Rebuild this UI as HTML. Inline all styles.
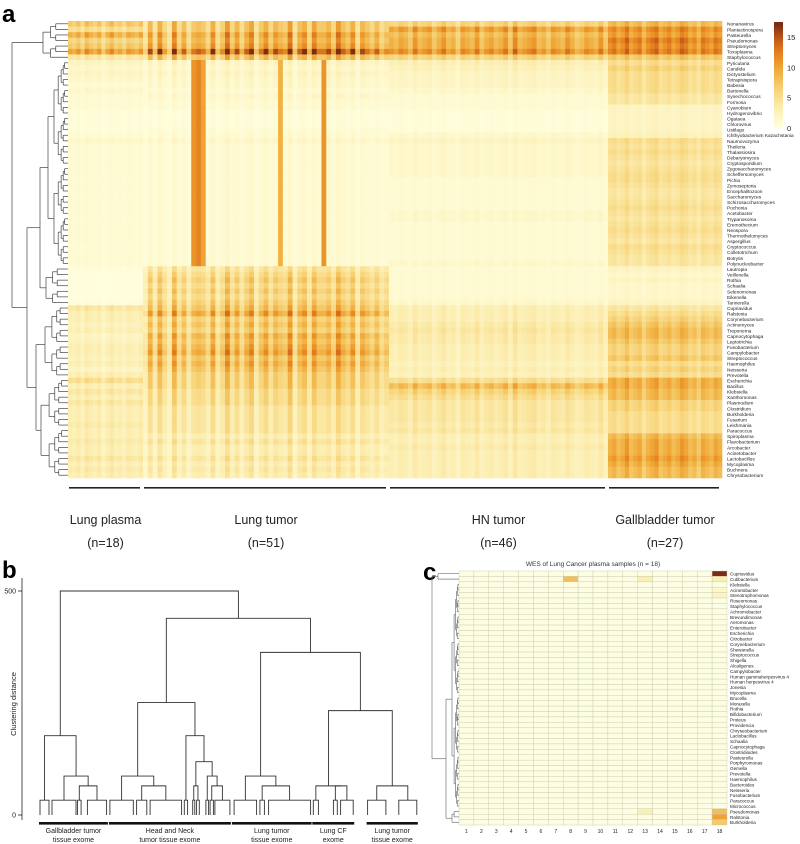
<!DOCTYPE html>
<html>
<head>
<meta charset="utf-8">
<style>
html,body{margin:0;padding:0;background:#fff;}
svg{display:block;font-family:"Liberation Sans",sans-serif;}
</style>
</head>
<body>
<svg id="fig" width="800" height="844" viewBox="0 0 800 844" xmlns="http://www.w3.org/2000/svg">
  <text x="2" y="22" font-size="24" font-weight="bold">a</text>
  <text x="2" y="578" font-size="24" font-weight="bold">b</text>
  <text x="423" y="580" font-size="24" font-weight="bold">c</text>
  <g id="ga"></g>
  <g id="gb"></g>
  <g id="gc"></g>
</svg>
<script>
// ---------- Panel a data ----------
const rowNamesA = ["Nonanavirus","Plantactinospora","Pasteurella","Pseudomonas","Streptomyces","Toxoplasma","Staphylococcus","Pyricularia","Candida","Dictyostelium","Tetrapisispora","Babesia","Bartonella","Synechococcus","Formosa","Cyanobium","Hydrogenovibrio","Ogataea","Chlorovirus","Ustilago","Ichthyobacterium Kazachstania","Naumovozyma","Theileria","Thalassiosira","Debaryomyces","Cryptosporidium","Zygosaccharomyces","Scheffersomyces","Pichia","Zymoseptoria","Encephalitozoon","Saccharomyces","Schizosaccharomyces","Pochonia","Acetobacter","Trypanosoma","Eremothecium","Neospora","Thermothelomyces","Aspergillus","Cryptococcus","Colletotrichum","Botrytis","Polynucleobacter","Lautropia","Veillonella","Rothia","Schaalia","Selenomonas","Eikenella","Tannerella","Cupriavidus","Ralstonia","Corynebacterium","Actinomyces","Treponema","Capnocytophaga","Leptotrichia","Fusobacterium","Campylobacter","Streptococcus","Haemophilus","Neisseria","Prevotella","Escherichia","Bacillus","Klebsiella","Xanthomonas","Plasmodium","Clostridium","Burkholderia","Fusarium","Leishmania","Paracoccus","Spiroplasma","Flavobacterium","Arcobacter","Acinetobacter","Lactobacillus","Mycoplasma","Buchnera","Chrysobacterium"];
const groupNames = ["Lung plasma","Lung tumor","HN tumor","Gallbladder tumor"];
const groupCounts = [18,51,46,27];
const levelsLP = [7,5,9,6,7,10,4, 2,1.5,2,1.5,1,1.5,1,1,1,0.5,0.5,0.5,0.5,1, 1.5,1,1,1,1,1,1,0.8,1,1,0.8,1,1,1,0.8,1,1,1,1,0.8,1,1,1, 0.5,0.3,0.3,0.3,0.3,0.3,0.5, 4,3,3,2.5,3,2,2.5,3,3,2.5,3,2,3, 5,3,4,3,4,3,3,3,3.5,3, 3,3.5,3,3,4,3,3.5,3];
const levelsLT = [7,7,9,8,9,13,7, 2,1.5,2,1.5,1.5,1,1.5,1,1,0.5,0.5,0.5,0.8,1, 1.5,1,1,1,1,1,1,1,1,1,1,1,1,1,1,1,1,1,1,1,1,1,1, 4,5,6,5,6,5,6, 7,9,6,7,6,8,7,8,9,7,8,7,6, 6,6,5,5,5,4,4,4,4,4, 3,4,3,3,4,3,3.5,3];
const levelsHN = [6,10,8,9,9,11,6, 3,2.5,2,2,2,1.5,1,1,1,0.5,0.5,0.5,0.5,1.5, 2,1.5,1.5,1.5,1.5,1.5,1.5,1,1,1,1,1,1,1.5,1.5,1,1,1,1,1,1,1,1.5, 1,1,1,1,1,1,1.5, 3,3,3,3.5,4,3.5,3.5,3,3,3,2.5,3,2.5, 5,8,6,5,4,4,4,4,3.5,4, 3,3,3.5,3,3,3,3,3];
const levelsGB = [8,11,10,12,11,12,7, 5,6,5,5,5,5,4,4,2,2,2,2,2,2.5, 5,4.5,5,4.5,4,4.5,5,5,4.5,4,4,4.5,5,4.5,4,4.5,5,4.5,4,5,4.5,4,4, 2,1.5,2,1.5,1.5,1.5,2, 4,5,6,7,8,8,7,6,6,7,5,6,5, 9,9,8,8,6,6,5,5,5,5, 8,9,9,9,10,9,8,8];
const colFactorLP = [1.0,0.9,1.1,0.8,1.2,1.0,0.9,1.1,0.7,1.0,1.2,0.9,1.0,0.8,1.1,1.0,0.9,1.1];
const colFactorLT = [0.5,1.2,0.6,1.3,0.8,0.5,1.4,0.7,1.1,0.6,1.0,1.1,1.0,0.7,1.3,0.6,0.9,1.5,0.8,1.2,0.7,1.1,1.4,0.6,1.0,1.3,0.8,1.2,1.0,0.9,1.5,0.6,1.1,1.3,0.7,1.4,1.0,1.0,1.2,0.8,1.5,1.1,0.9,1.3,0.6,1.2,1.0,0.8,1.1,0.7,0.9];
const colFactorHN = [1.0,0.9,1.1,1.0,0.8,1.2,0.9,1.0,1.1,0.8,1.0,1.2,0.9,1.0,0.7,1.1,1.0,0.9,1.2,0.8,1.0,1.1,0.9,1.0,1.2,0.8,1.3,0.9,1.0,1.1,1.2,0.9,1.0,0.8,1.1,1.0,0.9,1.2,1.0,0.8,0.9,1.1,1.0,0.9,1.2,0.8];
const colFactorGB = [1.0,1.1,0.9,1.0,1.2,0.9,1.0,1.1,0.8,1.0,1.1,1.2,0.9,1.0,1.1,0.9,1.0,1.2,1.1,0.9,1.0,0.8,1.1,1.0,0.9,1.1,1.0];
const stripeColsLT = [10,11,12,28,37];
const stripeValuesLT = [11,12,10,9,11];
const stripeRowRange = [7,43];
const colorbarTicks = [0,5,10,15];

// ---------- Panel b data ----------
const distTicks = [0,500];
const treeB = [500,
  [177,[33,0,3],[87,[33,4,12],[65,[33,12.5,13.7],[33,15.8,22.2]]]],
  [439,
    [251,[87,[33,23.3,31.1],[65,[33,32.2,35.6],[33,36.7,47.2]]],
         [177,[33,48.1,49.2],[119,[65,[33,50.9,51.6],[33,52.2,53.1]],[87,[33,55.3,56.2],[65,[33,56.7,57.8],[33,58.3,63.3]]]]]],
    [363,
      [87,[33,64.7,72.2],[65,[33,73.3,74.8],[33,76.2,90.2]]],
      [233,[65,[33,91.1,92.8],[65,[33,97.8,99.1],[33,100.2,104.4]]],[65,[33,109.2,115.3],[33,119.6,125.6]]]]]];
const groupsB = ["Gallbladder tumor|tissue exome","Head and Neck|tumor tissue exome","Lung tumor|tissue exome","Lung CF|exome","Lung tumor|tissue exome"];
const groupSpansB = [[0,22.3],[23.3,63.3],[64.3,90.2],[91.1,104.4],[109.2,125.6]];

// ---------- Panel c data ----------
const rowNamesC = ["Cupriavidus","Cutibacterium","Klebsiella","Acinetobacter","Stenotrophomonas","Roseomonas","Staphylococcus","Achromobacter","Brevundimonas","Aeromonas","Enterobacter","Escherichia","Citrobacter","Corynebacterium","Shewanella","Streptococcus","Shigella","Alcaligenes","Campylobacter","Human gammaherpesvirus 4","Human herpesvirus 4","Jonesia","Mycoplasma","Brucella","Moraxella","Rothia","Bifidobacterium","Proteus","Providencia","Chryseobacterium","Lactobacillus","Schaalia","Capnocytophaga","Clostridioides","Pasteurella","Porphyromonas","Gemella","Prevotella","Haemophilus","Bacteroides","Neisseria","Fusobacterium","Paracoccus","Micrococcus","Pseudomonas","Ralstonia","Burkholderia"];
const sampleLabelsC = ["1","2","3","4","5","6","7","8","9","10","11","12","13","14","15","16","17","18"];
const nonzeroRowsC = ["Cupriavidus","Cutibacterium","Cutibacterium","Cutibacterium","Acinetobacter","Stenotrophomonas","Pseudomonas","Pseudomonas","Ralstonia","Burkholderia"];
const nonzeroColsC = [18,8,13,18,18,18,13,18,18,18];
const nonzeroValsC = [17,8,3,3,1.5,2,3,8,10,7];

const NS = "http://www.w3.org/2000/svg";
function mk(tag, attrs, parent){ const e=document.createElementNS(NS,tag); for(const k in attrs) e.setAttribute(k,attrs[k]); parent.appendChild(e); return e; }
const stops=[[0,[255,255,224]],[3,[252,239,180]],[6,[247,214,126]],[9,[241,178,68]],[11,[236,148,39]],[13,[220,118,29]],[15,[187,83,24]],[17,[122,44,20]]];
function cmap(v){ v=Math.max(0,Math.min(17,v)); for(let i=1;i<stops.length;i++){ if(v<=stops[i][0]){ const a=stops[i-1],b=stops[i],t=(v-a[0])/(b[0]-a[0]); const c=a[1].map((x,j)=>Math.round(x+(b[1][j]-x)*t)); return `rgb(${c[0]},${c[1]},${c[2]})`; } } return 'rgb(122,44,20)'; }

// ===== Panel a =====
(function(){
  const g=document.getElementById('ga');
  const top=21, bottom=478, nR=rowNamesA.length, rh=(bottom-top)/nR;
  const spans=[[68,143],[143,389],[389,608],[608,722]];
  const levels=[levelsLP,levelsLT,levelsHN,levelsGB];
  const factors=[colFactorLP,colFactorLT,colFactorHN,colFactorGB];
  const yS=r=>top+r*rh;
  for(let gi=0;gi<4;gi++){
    const n=groupCounts[gi], cw=(spans[gi][1]-spans[gi][0])/n;
    for(let c=0;c<n;c++){
      for(let r=0;r<nR;r++){
        let v=levels[gi][r]*factors[gi][c];
        if(gi===1){ const si=stripeColsLT.indexOf(c); if(si>=0 && r>=stripeRowRange[0] && r<=stripeRowRange[1]) v=stripeValuesLT[si]; }
        const rc=mk('rect',{x:(spans[gi][0]+c*cw).toFixed(2),y:yS(r).toFixed(2),width:(cw+0.3).toFixed(2),height:(rh+0.3).toFixed(2),fill:cmap(v)},g);
        
        
      }
    }
    const bar=mk('rect',{x:spans[gi][0]+1,y:487,width:spans[gi][1]-spans[gi][0]-4,height:1.6,fill:'#222'},g);
    
    
    const cx=(spans[gi][0]+spans[gi][1])/2;
    const t1=mk('text',{x:cx,y:524,'font-size':12.5,'text-anchor':'middle',fill:'#222'},g); t1.textContent=groupNames[gi];
    
    
    const t2=mk('text',{x:cx,y:547,'font-size':12.5,'text-anchor':'middle',fill:'#222'},g); t2.textContent='(n='+n+')';
    
    
  }
  rowNamesA.forEach((nm,r)=>{ const t=mk('text',{x:727,y:(yS(r)+rh*0.85).toFixed(2),'font-size':4.8,fill:'#222'},g); t.textContent=nm;
    
     });
  // colorbar
  const cbTop=22, cbBot=128, cbX=774, cbW=9, cbScale=(cbBot-cbTop)/17.5;
  for(let i=0;i<70;i++){ const v=i*17.5/70; mk('rect',{x:cbX,y:(cbBot-(i+1)*cbScale*17.5/70).toFixed(2),width:cbW,height:(cbScale*17.5/70+0.4).toFixed(2),fill:cmap(v)},g); }
  colorbarTicks.forEach(tv=>{ const t=mk('text',{x:787,y:(cbBot-tv*cbScale+3).toFixed(1),'font-size':7.5,fill:'#222'},g); t.textContent=tv;
    
     });
  // row dendrogram
  const tree=[12,[43,[0,6]],[27,[40,[48,[7,43]],[46,[44,50]]],[36,[45,[51,63]],[41,[64,81]]]]];
  drawRowTree(g,tree,68,r=>yS(r)+rh/2,'#444');
})();

function drawRowTree(g,node,xLeaf,yc,col){
  function rangeNode(s,e,x){
    if(s===e) return yc(s);
    const m=Math.floor((s+e)/2);
    const nx=x+(xLeaf-x)*0.3;
    const y1=rangeNode(s,m,s===m?xLeaf:nx), y2=rangeNode(m+1,e,m+1===e?xLeaf:nx);
    const x1=s===m?xLeaf:nx, x2=m+1===e?xLeaf:nx;
    mk('line',{x1:x,y1:y1,x2:x1,y2:y1,stroke:col,'stroke-width':0.7},g);
    mk('line',{x1:x,y1:y2,x2:x2,y2:y2,stroke:col,'stroke-width':0.7},g);
    mk('line',{x1:x,y1:y1,x2:x,y2:y2,stroke:col,'stroke-width':0.7},g);
    return (y1+y2)/2;
  }
  function rec(n){
    if(typeof n[1][0]==='number' && n.length===2) return {x:n[0],y:rangeNode(n[1][0],n[1][1],n[0])};
    const a=rec(n[1]), b=rec(n[2]);
    mk('line',{x1:n[0],y1:a.y,x2:a.x,y2:a.y,stroke:col,'stroke-width':0.7},g);
    mk('line',{x1:n[0],y1:b.y,x2:b.x,y2:b.y,stroke:col,'stroke-width':0.7},g);
    mk('line',{x1:n[0],y1:a.y,x2:n[0],y2:b.y,stroke:col,'stroke-width':0.7},g);
    return {x:n[0],y:(a.y+b.y)/2};
  }
  return rec(node);
}

// ===== Panel b =====
(function(){
  const g=document.getElementById('gb');
  const xS=i=>40+i*3.0, yS=h=>815-h*0.448;
  mk('line',{x1:22,y1:578,x2:22,y2:820,stroke:'#222','stroke-width':0.8},g);
  distTicks.forEach(d=>{ mk('line',{x1:18,y1:yS(d),x2:22,y2:yS(d),stroke:'#222','stroke-width':0.8},g);
    const t=mk('text',{x:16,y:yS(d)+2.5,'font-size':7,'text-anchor':'end',fill:'#222'},g); t.textContent=d;
    
     });
  const yt=mk('text',{x:0,y:0,'font-size':7.5,'text-anchor':'middle',fill:'#222',transform:'translate(16,704) rotate(-90)'},g); yt.textContent='Clustering distance';
  
  
  function rec(n){
    if(typeof n==='number') return {x:xS(n),h:0};
    const a=rec(n[1]), b=rec(n[2]), h=n[0];
    const p=mk('path',{d:`M${a.x},${yS(a.h)}V${yS(h)}H${b.x}V${yS(b.h)}`,fill:'none',stroke:'#333','stroke-width':0.9},g);
    
    
    return {x:(a.x+b.x)/2,h:h};
  }
  rec(treeB);
  groupsB.forEach((lab,i)=>{
    const s=groupSpansB[i];
    const r=mk('rect',{x:xS(s[0])-1,y:822,width:xS(s[1])-xS(s[0])+2,height:2.6,fill:'#111'},g);
    
    
    const cx=(xS(s[0])+xS(s[1]))/2, parts=lab.split('|');
    parts.forEach((p,j)=>{ const t=mk('text',{x:cx,y:833+j*9,'font-size':7,'text-anchor':'middle',fill:'#222'},g); t.textContent=p;
      
       });
  });
})();

// ===== Panel c =====
(function(){
  const g=document.getElementById('gc');
  const x0=459,x1=727,y0=571,y1=825,nR=rowNamesC.length,nC=sampleLabelsC.length;
  const cw=(x1-x0)/nC, rh=(y1-y0)/nR;
  const vals=rowNamesC.map(()=>new Array(nC).fill(0));
  nonzeroRowsC.forEach((nm,i)=>{ vals[rowNamesC.indexOf(nm)][nonzeroColsC[i]-1]=nonzeroValsC[i]; });
  const t=mk('text',{x:(x0+x1)/2,y:566,'font-size':6.5,'text-anchor':'middle',fill:'#333'},g); t.textContent='WES of Lung Cancer plasma samples (n = 18)';
  
  
  for(let r=0;r<nR;r++){ for(let c=0;c<nC;c++){
    const v=vals[r][c];
    const rc=mk('rect',{x:(x0+c*cw).toFixed(2),y:(y0+r*rh).toFixed(2),width:cw.toFixed(2),height:rh.toFixed(2),fill:v>0?cmap(v):'#fcfde2',stroke:'#c9c9ad','stroke-width':0.4},g);
    
    
  }
    const lb=mk('text',{x:x1+3,y:(y0+r*rh+rh*0.85).toFixed(2),'font-size':4.6,fill:'#222'},g); lb.textContent=rowNamesC[r];
    
    
  }
  sampleLabelsC.forEach((s,c)=>{ const tt=mk('text',{x:(x0+(c+0.5)*cw).toFixed(2),y:833,'font-size':5,'text-anchor':'middle',fill:'#222'},g); tt.textContent=s;
    
     });
  const tree=[432,[438,[0,1]],[446,[452,[2,43]],[452,[44,46]]]];
  drawRowTree(g,tree,x0,r=>y0+r*rh+rh/2,'#777');
})();
</script>
</body>
</html>
